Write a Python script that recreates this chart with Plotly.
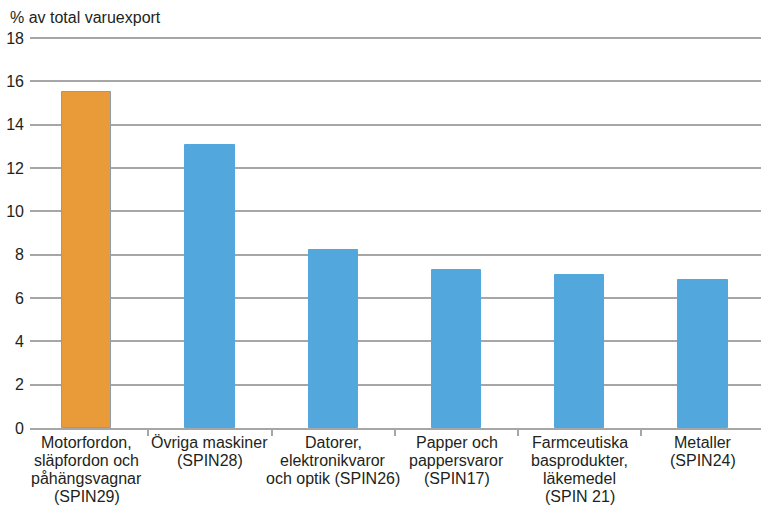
import plotly.graph_objects as go

categories = [
    "Motorfordon,<br>släpfordon och<br>påhängsvagnar<br>(SPIN29)",
    "Övriga maskiner<br>(SPIN28)",
    "Datorer,<br>elektronikvaror<br>och optik (SPIN26)",
    "Papper och<br>pappersvaror<br>(SPIN17)",
    "Farmceutiska<br>basprodukter,<br>läkemedel<br>(SPIN 21)",
    "Metaller<br>(SPIN24)",
]
values = [15.5, 13.05, 8.2, 7.3, 7.05, 6.85]
colors = ["#E99B39", "#52A7DC", "#52A7DC", "#52A7DC", "#52A7DC", "#52A7DC"]
line_colors = ["#8E9BAA", "#52A7DC", "#52A7DC", "#52A7DC", "#52A7DC", "#52A7DC"]
y_ticks = [0, 2, 4, 6, 8, 10, 12, 14, 16, 18]

FONT = "Liberation Sans, Arial, sans-serif"
TXT = "#231F20"

fig = go.Figure()
fig.add_trace(go.Bar(
    x=categories,
    y=values,
    width=0.4,
    marker=dict(color=colors, line=dict(color=line_colors, width=1)),
))

annotations = [dict(
    text="% av total varuexport", xref="paper", yref="paper",
    x=-22/731, y=1, xanchor="left", yanchor="middle", yshift=19,
    showarrow=False, font=dict(size=16, family=FONT, color=TXT),
)]
for i, cat in enumerate(categories):
    for k, line in enumerate(cat.split("<br>")):
        annotations.append(dict(
            text=line, xref="x", yref="paper", x=i, y=0,
            xanchor="center", yanchor="middle", yshift=-(14 + 18.3 * k),
            showarrow=False, font=dict(size=16, family=FONT, color=TXT),
        ))

fig.update_layout(
    width=761, height=507,
    margin=dict(l=30, r=0, t=36, b=79),
    paper_bgcolor="white", plot_bgcolor="white",
    font=dict(family=FONT, size=16, color=TXT),
    showlegend=False,
    bargap=0,
    annotations=annotations,
)
fig.update_xaxes(
    type="category", showticklabels=False,
    range=[-0.46, 5.47], showgrid=False, zeroline=False,
    showline=True, linecolor="#A6A6A6", linewidth=1.5,
    ticks="outside", tickson="boundaries", ticklen=6, tickcolor="#A6A6A6", tickwidth=1.5,
    automargin=False,
)
fig.update_yaxes(
    range=[0, 18.1], tickvals=y_ticks, showgrid=True, gridcolor="#A6A6A6", gridwidth=1.5,
    zeroline=False, ticks="", tickfont=dict(size=16), ticklabelstandoff=5,
    showline=False, automargin=False,
)

fig.write_html("out.html", config={"displayModeBar": False},
               post_script="document.body.style.margin='0';document.body.style.overflow='hidden';")
